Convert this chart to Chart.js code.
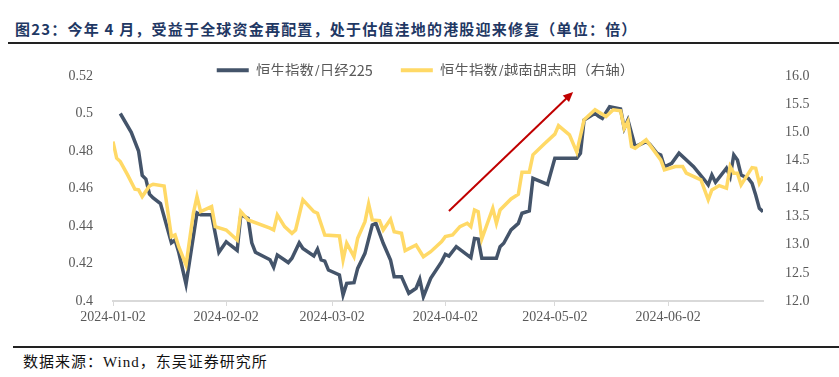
<!DOCTYPE html>
<html><head><meta charset="utf-8">
<script src="https://cdn.jsdelivr.net/npm/chart.js@4.4.1/dist/chart.umd.min.js"></script>
<style>
html,body{margin:0;padding:0;background:#fff;width:839px;height:377px;overflow:hidden;}
body{position:relative;}
#title{position:absolute;left:15px;top:18px;font:bold 15px "Noto Sans CJK SC";color:#1F3864;white-space:nowrap;letter-spacing:1.2px;}
#rule1{position:absolute;left:8px;top:42px;width:831px;height:2px;background:#222;}
#rule2{position:absolute;left:13px;top:346px;width:826px;height:1.5px;background:#222;}
#source{position:absolute;left:23px;top:350px;font:15px "Liberation Serif","Noto Sans CJK SC";color:#111;white-space:nowrap;letter-spacing:1px;}
#wrap{position:absolute;left:0;top:35px;width:839px;height:305px;}
</style></head>
<body>
<div id="title">图23：今年 4 月，受益于全球资金再配置，处于估值洼地的港股迎来修复（单位：倍）</div>
<div id="rule1"></div>
<div id="wrap"><canvas id="c"></canvas></div>
<div id="rule2"></div>
<div id="source">数据来源：Wind，东吴证券研究所</div>
<script>
const seriesNames = ['恒生指数/日经225', '恒生指数/越南胡志明（右轴）'];
const xTickLabels = ['2024-01-02','2024-02-02','2024-03-02','2024-04-02','2024-05-02','2024-06-02'];
const leftTicks = {min: 0.4, max: 0.52, step: 0.02};
const rightTicks = {min: 12, max: 16, step: 0.5};

const hsNikkeiDates = ['2024-01-04','2024-01-07','2024-01-09','2024-01-10','2024-01-11','2024-01-12','2024-01-13','2024-01-15','2024-01-18','2024-01-19','2024-01-20','2024-01-22','2024-01-25','2024-01-26','2024-01-29','2024-01-31','2024-02-02','2024-02-03','2024-02-05','2024-02-06','2024-02-08','2024-02-09','2024-02-10','2024-02-14','2024-02-15','2024-02-16','2024-02-19','2024-02-20','2024-02-22','2024-02-23','2024-02-26','2024-02-27','2024-02-28','2024-02-29','2024-03-01','2024-03-04','2024-03-05','2024-03-06','2024-03-08','2024-03-09','2024-03-11','2024-03-13','2024-03-14','2024-03-16','2024-03-18','2024-03-19','2024-03-21','2024-03-23','2024-03-25','2024-03-26','2024-03-27','2024-03-29','2024-04-01','2024-04-02','2024-04-03','2024-04-05','2024-04-09','2024-04-10','2024-04-11','2024-04-12','2024-04-16','2024-04-17','2024-04-18','2024-04-20','2024-04-22','2024-04-23','2024-04-25','2024-04-26','2024-04-30','2024-05-02','2024-05-08','2024-05-09','2024-05-10','2024-05-13','2024-05-14','2024-05-15','2024-05-17','2024-05-20','2024-05-21','2024-05-22','2024-05-24','2024-05-27','2024-05-28','2024-05-30','2024-05-31','2024-06-01','2024-06-03','2024-06-05','2024-06-09','2024-06-12','2024-06-13','2024-06-14','2024-06-15','2024-06-18','2024-06-19','2024-06-20','2024-06-21','2024-06-22','2024-06-24','2024-06-25','2024-06-26','2024-06-27','2024-06-28'];
const hsNikkeiValues = [0.500,0.490,0.480,0.467,0.465,0.457,0.455,0.452,0.431,0.4325,0.426,0.409,0.447,0.446,0.446,0.426,0.4316,0.430,0.427,0.446,0.444,0.431,0.426,0.422,0.418,0.4245,0.4205,0.4228,0.431,0.428,0.424,0.4277,0.4219,0.4213,0.4165,0.4139,0.4032,0.4094,0.4098,0.4174,0.4254,0.4405,0.4414,0.4308,0.4219,0.413,0.413,0.4041,0.4068,0.4116,0.4023,0.4121,0.421,0.4249,0.424,0.429,0.4231,0.4334,0.4331,0.4228,0.4228,0.429,0.4308,0.4379,0.4414,0.4468,0.448,0.4654,0.4622,0.4761,0.4761,0.4788,0.4965,0.5001,0.4985,0.4974,0.5036,0.5024,0.4921,0.4965,0.4823,0.485,0.4836,0.4788,0.4779,0.4716,0.4734,0.4788,0.4716,0.4645,0.4619,0.4672,0.4633,0.4708,0.4663,0.4779,0.4752,0.4672,0.4654,0.4628,0.4565,0.4494,0.4476];

const hsVietnamDates = ['2024-01-02','2024-01-03','2024-01-04','2024-01-06','2024-01-08','2024-01-09','2024-01-10','2024-01-12','2024-01-13','2024-01-16','2024-01-18','2024-01-19','2024-01-20','2024-01-22','2024-01-24','2024-01-25','2024-01-26','2024-01-29','2024-01-30','2024-02-02','2024-02-05','2024-02-06','2024-02-08','2024-02-14','2024-02-15','2024-02-16','2024-02-18','2024-02-20','2024-02-21','2024-02-23','2024-02-26','2024-02-27','2024-02-29','2024-03-04','2024-03-05','2024-03-06','2024-03-08','2024-03-09','2024-03-11','2024-03-12','2024-03-13','2024-03-15','2024-03-16','2024-03-18','2024-03-19','2024-03-21','2024-03-22','2024-03-25','2024-03-27','2024-03-29','2024-04-01','2024-04-02','2024-04-04','2024-04-06','2024-04-08','2024-04-09','2024-04-10','2024-04-11','2024-04-12','2024-04-15','2024-04-16','2024-04-17','2024-04-20','2024-04-22','2024-04-23','2024-04-25','2024-04-26','2024-04-29','2024-05-02','2024-05-03','2024-05-06','2024-05-08','2024-05-10','2024-05-13','2024-05-16','2024-05-18','2024-05-20','2024-05-21','2024-05-22','2024-05-23','2024-05-24','2024-05-27','2024-05-29','2024-05-31','2024-06-01','2024-06-04','2024-06-06','2024-06-07','2024-06-11','2024-06-13','2024-06-14','2024-06-16','2024-06-18','2024-06-19','2024-06-20','2024-06-21','2024-06-22','2024-06-25','2024-06-26','2024-06-27','2024-06-28'];
const hsVietnamValues = [14.835,14.539,14.479,14.242,13.988,13.975,13.856,14.046,14.076,14.046,13.144,13.174,12.966,12.641,13.560,13.856,13.589,13.678,13.322,13.263,13.085,13.589,13.441,13.294,13.263,13.530,13.322,13.204,13.263,13.797,13.589,13.560,13.174,13.157,12.730,13.027,12.788,13.116,13.411,13.726,13.441,13.429,13.263,13.454,13.233,13.204,12.895,12.996,12.788,12.877,13.055,13.144,13.174,13.322,13.382,13.322,13.619,13.589,13.103,13.649,13.382,13.619,13.815,13.899,14.290,14.290,14.598,14.788,14.966,15.119,14.954,14.646,15.221,15.40,15.28,15.40,15.38,15.07,15.19,14.746,14.716,14.865,14.687,14.509,14.331,14.390,14.390,14.272,14.153,13.80,13.975,14.052,14.005,14.390,14.272,14.272,14.064,14.372,14.361,14.094,14.212];

// trend arrow, in data coordinates (date, left-axis value)
const arrowFrom = ['2024-04-03', 0.448];
const arrowTo = ['2024-05-07', 0.5115];

const DAY0 = Date.parse(xTickLabels[0] + 'T00:00:00Z');
const dayOf = s => Math.round((Date.parse(s + 'T00:00:00Z') - DAY0) / 864e5);
const dateOf = d => new Date(DAY0 + d * 864e5).toISOString().slice(0, 10);
const toPoints = (ds, vs) => ds.map((d, i) => ({x: dayOf(d), y: vs[i]}));

const tickFont = {family: '"Liberation Serif", "Times New Roman", serif', size: 14};
const tickColor = '#595959';

const legendFit = {
  id: 'legendFit',
  beforeInit(chart) {
    const lg = chart.legend;
    const f = lg.fit;
    lg.fit = function () { f.call(this); this.height = 41; };
    const d = lg.draw;
    lg.draw = function () {
      const ctx = this.ctx;
      ctx.save();
      ctx.translate(6, 0);
      d.call(this);
      ctx.restore();
    };
  }
};

const arrowPlugin = {
  id: 'arrow',
  afterDatasetsDraw(chart) {
    const {ctx, scales} = chart;
    const x1 = scales.x.getPixelForValue(dayOf(arrowFrom[0]));
    const y1 = scales.y.getPixelForValue(arrowFrom[1]);
    const x2 = scales.x.getPixelForValue(dayOf(arrowTo[0]));
    const y2 = scales.y.getPixelForValue(arrowTo[1]);
    const ang = Math.atan2(y2 - y1, x2 - x1);
    const L = 10, W = 4.5;
    ctx.save();
    ctx.strokeStyle = '#C00000';
    ctx.fillStyle = '#C00000';
    ctx.lineWidth = 2;
    ctx.beginPath();
    ctx.moveTo(x1, y1);
    ctx.lineTo(x2 - Math.cos(ang) * L * 0.8, y2 - Math.sin(ang) * L * 0.8);
    ctx.stroke();
    ctx.beginPath();
    ctx.moveTo(x2, y2);
    ctx.lineTo(x2 - Math.cos(ang) * L - Math.sin(ang) * W, y2 - Math.sin(ang) * L + Math.cos(ang) * W);
    ctx.lineTo(x2 - Math.cos(ang) * L + Math.sin(ang) * W, y2 - Math.sin(ang) * L - Math.cos(ang) * W);
    ctx.closePath();
    ctx.fill();
    ctx.restore();
  }
};

new Chart(document.getElementById('c'), {
  type: 'line',
  data: {
    datasets: [
      {label: seriesNames[0], data: toPoints(hsNikkeiDates, hsNikkeiValues), yAxisID: 'y',
       borderColor: '#44546A', backgroundColor: '#44546A', borderWidth: 3.5, pointRadius: 0, tension: 0, order: 1},
      {label: seriesNames[1], data: toPoints(hsVietnamDates, hsVietnamValues), yAxisID: 'y1',
       borderColor: '#FFD966', backgroundColor: '#FFD966', borderWidth: 3.5, pointRadius: 0, tension: 0, order: 0}
    ]
  },
  options: {
    responsive: true,
    maintainAspectRatio: false,
    animation: false,
    layout: {padding: 0},
    plugins: {
      tooltip: {enabled: false},
      legend: {
        position: 'top',
        align: 'center',
        labels: {
          font: {family: '"Noto Sans CJK SC", "Liberation Serif"', size: 14.5},
          color: '#595959',
          boxWidth: 32,
          boxHeight: 4,
          padding: 28,
          generateLabels: chart => chart.data.datasets.map((ds, i) => ({
            text: ds.label, fillStyle: ds.borderColor, strokeStyle: ds.borderColor,
            lineWidth: 0, hidden: false, datasetIndex: i, fontColor: '#595959'
          }))
        }
      }
    },
    scales: {
      x: {
        type: 'linear',
        min: 0,
        max: dayOf('2024-06-28'),
        afterBuildTicks: s => { s.ticks = xTickLabels.map(l => ({value: dayOf(l)})); },
        afterFit: s => { s.height = 39; },
        grid: {drawOnChartArea: false, drawTicks: true, tickLength: 5, color: '#D9D9D9', lineWidth: 1},
        border: {display: true, color: '#D9D9D9', width: 2},
        ticks: {font: tickFont, color: tickColor, padding: 3, autoSkip: false, maxRotation: 0,
                callback: v => dateOf(v)}
      },
      y: {
        position: 'left',
        min: leftTicks.min, max: leftTicks.max,
        afterFit: s => { s.width = 113; },
        grid: {display: false},
        border: {display: false},
        ticks: {stepSize: leftTicks.step, font: tickFont, color: tickColor, padding: 12,
                callback: v => String(+v.toFixed(2))}
      },
      y1: {
        position: 'right',
        min: rightTicks.min, max: rightTicks.max,
        afterFit: s => { s.width = 76; },
        grid: {display: false},
        border: {display: false},
        ticks: {stepSize: rightTicks.step, font: tickFont, color: tickColor, padding: 14,
                callback: v => v.toFixed(1)}
      }
    }
  },
  plugins: [legendFit, arrowPlugin]
});
</script>
</body></html>
